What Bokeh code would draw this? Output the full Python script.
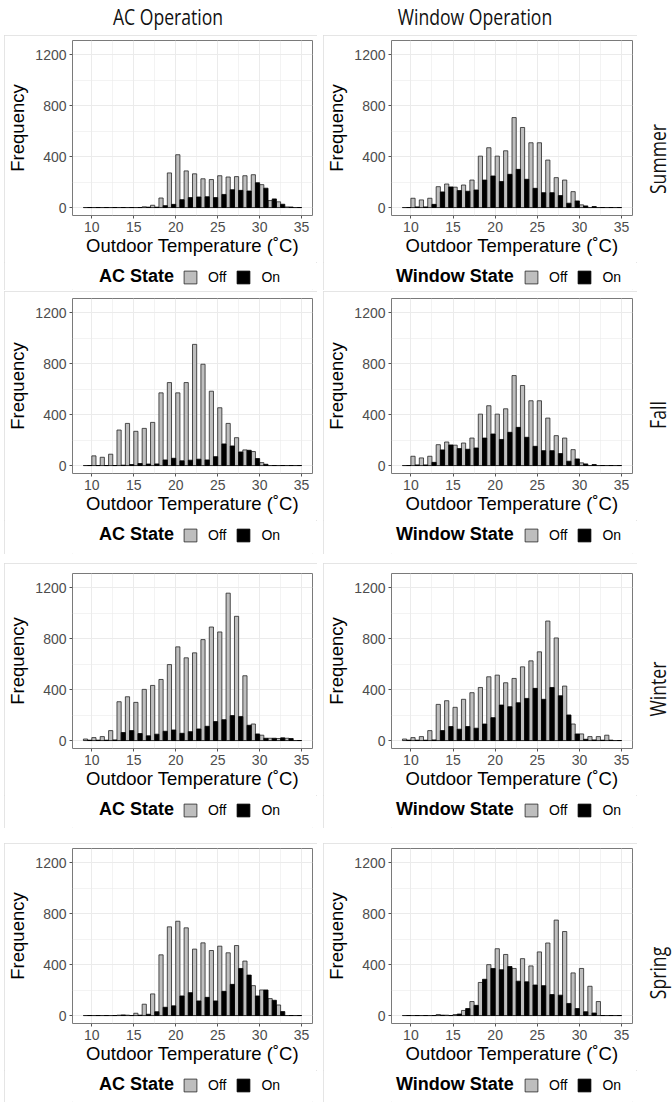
from bokeh.plotting import figure
from bokeh.models import Range1d, FixedTicker, Legend, LegendItem, Div, Spacer
from bokeh.layouts import column, row
from bokeh.embed import file_html
from bokeh.resources import INLINE

# ---------------- data ----------------
bins = list(range(9, 35))          # left edge of each 1 degC bin (9..34)
x_ticks = [10, 15, 20, 25, 30, 35]
x_minor = [12.5, 17.5, 22.5, 27.5, 32.5]
y_ticks = [0, 400, 800, 1200]
y_minor = [200, 600, 1000]
y_max = 1250

seasons = ["Summer", "Fall", "Winter", "Spring"]
columns_titles = ["AC Operation", "Window Operation"]
state_titles = ["AC State", "Window State"]
state_labels = ["Off", "On"]

ac_summer_off = [0, 0, 0, 0, 0, 0, 0, 6, 18, 75, 272, 415, 288, 265, 226, 220, 250, 240, 243, 250, 258, 180, 55, 45, 5, 0]
ac_summer_on  = [0, 0, 0, 0, 0, 0, 0, 3, 3, 15, 25, 62, 78, 83, 85, 78, 103, 140, 135, 130, 195, 152, 68, 26, 4, 0]
win_summer_off = [0, 73, 60, 73, 164, 185, 160, 177, 216, 404, 470, 404, 446, 707, 629, 509, 509, 373, 235, 216, 125, 21, 0, 0, 0, 0]
win_summer_on  = [0, 5, 5, 25, 123, 162, 133, 128, 138, 216, 248, 205, 261, 300, 222, 151, 117, 117, 94, 34, 52, 13, 8, 0, 0, 0]

ac_fall_off = [0, 76, 65, 89, 279, 331, 269, 292, 339, 571, 652, 571, 652, 952, 796, 584, 454, 331, 219, 123, 110, 23, 0, 0, 0, 0]
ac_fall_on  = [0, 0, 0, 0, 3, 8, 16, 12, 13, 44, 57, 37, 42, 50, 44, 70, 170, 154, 107, 120, 55, 10, 0, 0, 0, 0]
win_fall_off = [0, 73, 60, 73, 164, 185, 160, 177, 216, 404, 470, 404, 446, 707, 629, 509, 509, 373, 235, 216, 125, 21, 0, 0, 0, 0]
win_fall_on  = [0, 5, 5, 25, 123, 162, 133, 128, 138, 216, 248, 205, 261, 300, 222, 151, 117, 117, 94, 34, 52, 13, 8, 0, 0, 0]

ac_winter_off = [12, 23, 31, 78, 305, 344, 300, 402, 433, 480, 597, 736, 650, 689, 793, 892, 853, 1158, 976, 509, 130, 42, 18, 16, 18, 0]
ac_winter_on  = [3, 3, 3, 5, 63, 78, 55, 37, 50, 73, 83, 57, 70, 91, 112, 149, 164, 196, 188, 120, 52, 18, 18, 21, 16, 0]
win_winter_off = [12, 23, 31, 78, 284, 313, 261, 324, 376, 417, 501, 514, 454, 488, 579, 626, 697, 939, 806, 428, 130, 52, 31, 31, 42, 0]
win_winter_on  = [3, 3, 3, 5, 78, 110, 89, 110, 97, 130, 180, 279, 266, 297, 331, 410, 324, 417, 352, 201, 52, 10, 5, 3, 3, 0]

ac_spring_off = [0, 0, 0, 0, 3, 3, 18, 89, 170, 477, 697, 741, 689, 522, 571, 511, 545, 493, 550, 428, 235, 201, 133, 83, 0, 0]
ac_spring_on  = [0, 0, 0, 0, 5, 0, 3, 10, 30, 65, 76, 154, 180, 115, 143, 115, 190, 245, 370, 318, 154, 201, 120, 31, 0, 0]
win_spring_off = [0, 0, 0, 0, 8, 3, 8, 40, 110, 260, 400, 525, 480, 370, 447, 390, 500, 570, 750, 660, 335, 370, 230, 110, 0, 0]
win_spring_on  = [0, 0, 0, 0, 3, 0, 12, 55, 80, 285, 370, 360, 385, 270, 265, 240, 235, 165, 160, 95, 55, 30, 20, 0, 0, 0]

panels = [
    [(ac_summer_off, ac_summer_on), (win_summer_off, win_summer_on)],
    [(ac_fall_off, ac_fall_on), (win_fall_off, win_fall_on)],
    [(ac_winter_off, ac_winter_on), (win_winter_off, win_winter_on)],
    [(ac_spring_off, ac_spring_on), (win_spring_off, win_spring_on)],
]

# ---------------- styling / layout ----------------
FONT = "Liberation Sans"
OFF_FILL = "#bebebe"
ON_FILL = "#000000"
BAR_LINE = "#262626"
FRAME_H = 175
AXIS_SPACE = 47            # space below the frame for the x axis
LEG_CENTER = 62            # legend centre below frame bottom
BORDER_LEFT = 63
card_w = [313, 314]
frame_w = [245, 246]
row_h = [255, 263, 265, 259]
row_top = [5, 7, 10, 5]
row_gap = [1, 9, 15]
legend_x = [(90, 173), (68, 195)]   # title-legend / key-legend left edge within card


def style_legend(leg):
    leg.orientation = "horizontal"
    leg.padding = 0
    leg.margin = 0
    leg.border_line_alpha = 0
    leg.background_fill_alpha = 0
    leg.label_width = 0
    leg.label_height = 20
    leg.label_text_font = FONT
    leg.label_text_color = "black"


def make_card(off, on, ci, ri):
    w = card_w[ci]
    bl = BORDER_LEFT
    br = w - bl - frame_w[ci]
    bt = row_top[ri]
    main_h = bt + FRAME_H + AXIS_SPACE
    leg_h = row_h[ri] - main_h
    x0, x1 = bins[0], bins[-1] + 1
    xpad = 0.05 * (x1 - x0)
    ypad = 0.05 * y_max
    p = figure(width=w, height=main_h,
               x_range=Range1d(x0 - xpad, x1 + xpad),
               y_range=Range1d(-ypad, y_max + ypad),
               output_backend="svg", toolbar_location=None,
               min_border_left=bl, min_border_right=br,
               min_border_top=bt, min_border_bottom=AXIS_SPACE,
               background_fill_color="white", border_fill_color="white",
               outline_line_color="#7a7a7a", outline_line_width=1)

    xt = FixedTicker(ticks=x_ticks, minor_ticks=x_minor)
    yt = FixedTicker(ticks=y_ticks, minor_ticks=y_minor)
    p.xaxis.ticker = xt
    p.xgrid.ticker = xt
    p.yaxis.ticker = yt
    p.ygrid.ticker = yt
    for g in (p.xgrid, p.ygrid):
        g.grid_line_color = "#ebebeb"
        g.grid_line_width = 1
        g.minor_grid_line_color = "#ebebeb"
        g.minor_grid_line_width = 0.6

    p.xaxis.axis_label = "Outdoor Temperature (\u02daC)"
    p.yaxis.axis_label = "Frequency"
    for ax in (p.xaxis, p.yaxis):
        ax.axis_line_color = None
        ax.major_tick_line_color = "#555555"
        ax.major_tick_out = 3
        ax.major_tick_in = 0
        ax.minor_tick_line_color = None
        ax.major_label_text_font = FONT
        ax.major_label_text_font_size = "14px"
        ax.major_label_text_color = "#4d4d4d"
        ax.axis_label_text_font = FONT
        ax.axis_label_text_font_size = "18.5px"
        ax.axis_label_text_font_style = "normal"
        ax.axis_label_text_color = "black"
    p.xaxis.major_label_standoff = 2
    p.xaxis.axis_label_standoff = 0
    p.yaxis.major_label_standoff = 2
    p.yaxis.axis_label_standoff = 4

    p.line(x=[x0, x1], y=[0, 0], line_color="#1a1a1a", line_width=1)
    xs_off = [b + 0.25 for b in bins]
    xs_on = [b + 0.75 for b in bins]
    p.vbar(x=xs_off, top=off, bottom=0, width=0.5,
           fill_color=OFF_FILL, line_color=BAR_LINE, line_width=0.8)
    p.vbar(x=xs_on, top=on, bottom=0, width=0.5,
           fill_color=ON_FILL, line_color="#000000", line_width=0.8)

    # legend strip below the axis title (its frame is aligned with the panel's frame)
    lp = figure(width=w, height=leg_h, x_range=Range1d(0, 1), y_range=Range1d(0, 1),
                x_axis_type=None, y_axis_type=None,
                output_backend="svg", toolbar_location=None,
                min_border_left=bl, min_border_right=br, min_border_top=0, min_border_bottom=0,
                background_fill_color="white", border_fill_color="white",
                outline_line_color=None)
    nan = float("nan")
    # key-only renderers (no drawable data; they exist to give the legend its keys)
    k_off = lp.vbar(x=[nan], top=[nan], width=0.5, fill_color=OFF_FILL, line_color=BAR_LINE, line_width=0.8)
    k_on = lp.vbar(x=[nan], top=[nan], width=0.5, fill_color=ON_FILL, line_color="#000000", line_width=0.8)
    dummy = lp.scatter(x=[nan], y=[nan], size=0, fill_alpha=0, line_alpha=0)

    ly = leg_h - (LEG_CENTER - AXIS_SPACE) - 10
    lx1, lx2 = legend_x[ci]
    leg1 = Legend(items=[LegendItem(label=state_titles[ci], renderers=[dummy])],
                  location=(lx1 - bl, ly), glyph_width=0, glyph_height=16, label_standoff=0)
    style_legend(leg1)
    leg1.label_text_font_size = "18px"
    leg1.label_text_font_style = "bold"
    leg2 = Legend(items=[LegendItem(label=state_labels[0], renderers=[k_off]),
                         LegendItem(label=state_labels[1], renderers=[k_on])],
                  location=(lx2 - bl, ly), glyph_width=16, glyph_height=16,
                  label_standoff=10, spacing=9)
    style_legend(leg2)
    leg2.label_text_font_size = "14px"
    lp.add_layout(leg1)
    lp.add_layout(leg2)

    card = column(p, lp, styles={"outline": "1px solid #dddddd", "outline-offset": "-1px"})
    return card


left_items, right_items = [], []
for ri in range(4):
    if ri > 0:
        left_items.append(Spacer(width=card_w[0], height=row_gap[ri - 1]))
        right_items.append(Spacer(width=card_w[1], height=row_gap[ri - 1]))
    left_items.append(make_card(panels[ri][0][0], panels[ri][0][1], 0, ri))
    right_items.append(make_card(panels[ri][1][0], panels[ri][1][1], 1, ri))

TITLE_STYLE = ("position:absolute;white-space:nowrap;font-family:'Open Sans';"
               "font-size:22px;line-height:26px;color:#111111;")
title_html = (
    '<div style="position:relative;width:672px;height:35px;">'
    f'<span style="{TITLE_STYLE}left:168px;top:3px;transform:translateX(-50%) scaleX(0.8);">{columns_titles[0]}</span>'
    f'<span style="{TITLE_STYLE}left:475px;top:3px;transform:translateX(-50%) scaleX(0.8);">{columns_titles[1]}</span>'
    '</div>'
)
title_div = Div(text=title_html, width=672, height=35, margin=0)

strip_centers = [159, 415, 689, 973]
strip_spans = "".join(
    f'<span style="{TITLE_STYLE}left:20px;top:{c - 35}px;'
    f'transform:translate(-50%,-50%) rotate(-90deg) scaleX(0.8);">{s}</span>'
    for s, c in zip(seasons, strip_centers)
)
strip_div = Div(text=f'<div style="position:relative;width:35px;height:1067px;">{strip_spans}</div>',
                width=35, height=1067, margin=0)

layout = column(
    title_div,
    row(Spacer(width=4, height=10), column(*left_items), Spacer(width=6, height=10),
        column(*right_items), strip_div),
)

open("out.html", "w").write(file_html(layout, INLINE))
